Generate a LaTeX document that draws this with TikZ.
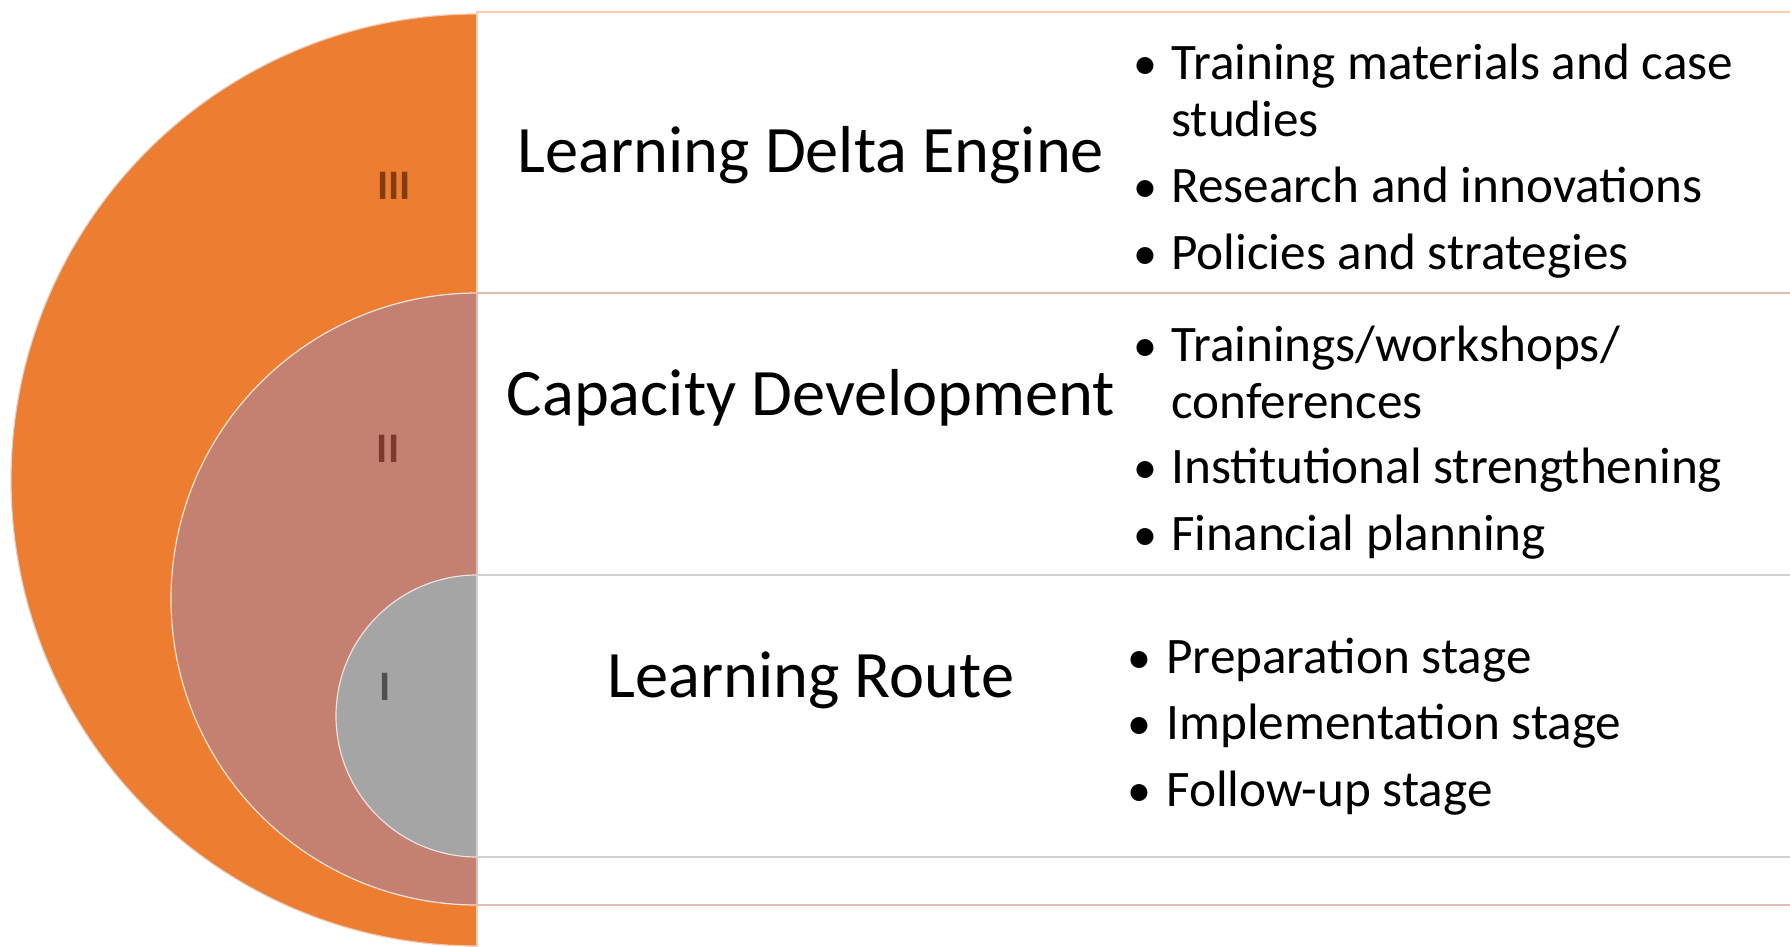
\documentclass[tikz,border=0pt]{standalone}
\usepackage{fontspec}
\setmainfont{Carlito}
\definecolor{ringIII}{HTML}{ED7D31}
\definecolor{ringII}{HTML}{C48070}
\definecolor{ringI}{HTML}{A5A5A5}
\definecolor{edgeIII}{HTML}{F8CBAD}
\definecolor{edgeII}{HTML}{E2BCB2}
\definecolor{edgeI}{HTML}{D0D0D0}
\definecolor{numIII}{HTML}{843C0C}
\definecolor{numII}{HTML}{7A3A2E}
\definecolor{numI}{HTML}{505050}
\tikzset{
  levelbox/.style={fill=white, line width=1.3pt},
  title/.style={font=\fontsize{33.2}{40}\selectfont, anchor=base, inner sep=0pt},
  numeral/.style={font=\bfseries\fontsize{21}{24}\selectfont, inner sep=0pt},
  item/.style={font=\fontsize{25.6}{28.5}\selectfont, anchor=base west, inner sep=0pt},
  dot/.style={font=\fontsize{24}{28.5}\selectfont, anchor=base, inner sep=0pt}
}
\begin{document}
\begin{tikzpicture}[x=0.5pt, y=-0.5pt]
	\useasboundingbox (0,0) rectangle (1790,947);
	\clip (0,0) rectangle (1790,947);
	% half discs
	\begin{scope}
		\clip (0,0) rectangle (477,947);
		\filldraw[fill=ringIII, draw=edgeIII, line width=0.6pt] (477,480) circle (466);
		\filldraw[fill=ringII, draw=white!80!ringII, line width=0.6pt] (477,599) circle (306);
		\filldraw[fill=ringI, draw=white!70!ringI, line width=0.6pt] (477,716) circle (141);
	\end{scope}
	% boxes
	\draw[levelbox, draw=edgeIII] (477,12) rectangle (1800,960);
	\draw[levelbox, draw=edgeII] (477,293) rectangle (1800,905);
	\draw[levelbox, draw=edgeI] (477,575) rectangle (1800,857);
	% numerals
	\node[numeral, text=numIII] (n3) at (394,186) {III};
	\node[numeral, text=numII] (n2) at (388,449) {II};
	\node[numeral, text=numI] (n1) at (385,687) {I};
	% titles
	\node[title] (t3) at (811,173) {Learning Delta Engine};
	\node[title] (t2) at (811,415) {Capacity Development};
	\node[title] (t1) at (811,697) {Learning Route};
	% items of level III
	\node[dot] (d3a) at (1145,80) {•};
	\node[item] (i3a) at (1171,80) {Training materials and case};
	\node[item] (i3b) at (1171,137) {studies};
	\node[dot] (d3c) at (1145,203) {•};
	\node[item] (i3c) at (1171,203) {Research and innovations};
	\node[dot] (d3d) at (1145,270) {•};
	\node[item] (i3d) at (1171,270) {Policies and strategies};
	% items of level II
	\node[dot] (d2a) at (1145,361) {•};
	\node[item] (i2a) at (1171,361) {Trainings/workshops/};
	\node[item] (i2b) at (1171,418) {conferences};
	\node[dot] (d2c) at (1145,483) {•};
	\node[item] (i2c) at (1171,483) {Institutional strengthening};
	\node[dot] (d2d) at (1145,550) {•};
	\node[item] (i2d) at (1171,550) {Financial planning};
	% items of level I
	\node[dot] (d1a) at (1139,673) {•};
	\node[item] (i1a) at (1166,673) {Preparation stage};
	\node[dot] (d1b) at (1139,739) {•};
	\node[item] (i1b) at (1166,739) {Implementation stage};
	\node[dot] (d1c) at (1139,806) {•};
	\node[item] (i1c) at (1166,806) {Follow-up stage};
\end{tikzpicture}
\end{document}
